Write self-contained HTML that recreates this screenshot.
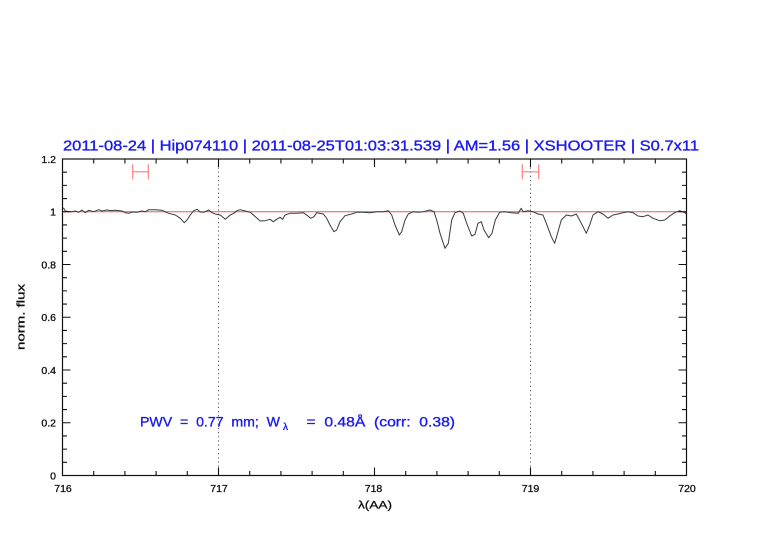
<!DOCTYPE html>
<html>
<head>
<meta charset="utf-8">
<style>
html,body{margin:0;padding:0;background:#fff;}
svg{display:block;}
text{font-family:"Liberation Sans",sans-serif;white-space:pre;}
</style>
</head>
<body>
<svg width="782" height="542" viewBox="0 0 782 542" xmlns="http://www.w3.org/2000/svg">
<rect width="782" height="542" fill="#fff"/>

<!-- title -->
<text x="63" y="150.5" font-size="14.5" fill="#1a1aee" stroke="#1a1aee" stroke-width="0.35" textLength="636" lengthAdjust="spacingAndGlyphs">2011-08-24 | Hip074110 | 2011-08-25T01:03:31.539 | AM=1.56 | XSHOOTER | S0.7x11</text>

<!-- reference line at 1 -->
<line x1="62.5" y1="211.75" x2="686.5" y2="211.75" stroke="#e85a5a" stroke-width="1"/>

<!-- dotted verticals -->
<line x1="218.5" y1="159" x2="218.5" y2="475.5" stroke="#555" stroke-width="1" stroke-dasharray="1.2,3"/>
<line x1="530.5" y1="159" x2="530.5" y2="475.5" stroke="#555" stroke-width="1" stroke-dasharray="1.2,3"/>

<!-- error bars -->
<g stroke="#ff7f7f" stroke-width="1.2" fill="none">
<path d="M132.7,164.3V179.3M148.3,164.3V179.3M132.7,171.8H148.3"/>
<path d="M522.3,164.3V179.3M538.7,164.3V179.3M522.3,171.8H538.7"/>
</g>

<!-- spectrum -->
<polyline fill="none" stroke="#3a3a3a" stroke-width="1" stroke-linejoin="round" points="
62.5,207.8 63.7,208.3 65.3,211 68,211.5 72,211.7 75.3,211 78.7,212.3 82,210 85.3,212.7 88.7,210.3 93.7,211.7 98.7,209.7 102,211 107,210 111,210.6 115.3,210.3 122,211 125.3,212.7 128.7,213.3 132,212 137,212.3 142,211 145.3,211.7 148.7,209.7 155.3,209.7 162,210.3 168.7,213.3 175.3,215 180.3,218.3 184.3,222.7 187,220 190.3,215 193.7,210.7 197,209.3 200.3,212 203.7,212.3 208.7,210 212,212.7 216,214.3 220.3,215 225.3,219.3 230.3,215 233.7,213.3 237,210.7 240.3,209.7 245.3,211 250.3,212.3 255.3,216.7 260.3,221 265.3,220.7 270,219.3 273.3,221.7 276.7,219.3 280,217.3 282.7,219.3 285,215 290,213.3 296.7,213.3 303.3,212.7 306.7,215 310.7,218.3 314,216.7 316.7,212.7 323.3,214 326.7,218.3 330,225 334,231.7 336.7,230 340,221.7 345,215.7 351.7,214 356.7,212.3 363.3,212.3 370,212.7 376.7,211.7 383.3,211.7 388.3,210.7 391.7,215 395,225 399.3,235 401.7,231.7 405,220 408.3,214 413.3,211.7 418.3,212.3 423.3,211.7 430,210 434,211.7 436.7,220 440,233.3 445,248.3 448.3,243.3 451.7,220 455,212.7 460,211 463.3,213.3 466.7,223.3 471.7,236 475,234.3 478,223.3 481.3,221.7 484,230 488.7,237.7 492,233.3 495.3,220 499.7,212.3 504.7,211.7 511.3,212.7 518,213.3 521.3,208.3 523,211.7 528,210.7 533,211.7 538,214 543,215 546.3,223.3 551.3,236.7 554.7,243.3 558,231.7 561.3,220 566.3,215 571.3,216 576.3,214 581.3,223.3 586.3,233.3 589.7,225 593,215 598,211.7 603,214 608,218.3 613,215 618,214 623,212.7 628,211.7 633,212.7 638,216 643,216.7 648,215 653,218.3 659.7,220.7 664.7,220 669.7,216 674.7,212.7 679.7,210.7 684.7,212.7 686.5,214"/>

<!-- frame -->
<rect x="62.5" y="159" width="624" height="316.5" fill="none" stroke="#111" stroke-width="1.2"/>

<!-- ticks -->
<g stroke="#111" stroke-width="1.1" fill="none">
<path d="M93.7,475.5v-4.5M124.9,475.5v-4.5M156.1,475.5v-4.5M187.3,475.5v-4.5M218.5,475.5v-8M249.7,475.5v-4.5M280.9,475.5v-4.5M312.1,475.5v-4.5M343.3,475.5v-4.5M374.5,475.5v-8M405.7,475.5v-4.5M436.9,475.5v-4.5M468.1,475.5v-4.5M499.3,475.5v-4.5M530.5,475.5v-8M561.7,475.5v-4.5M592.9,475.5v-4.5M624.1,475.5v-4.5M655.3,475.5v-4.5"/>
<path d="M93.7,159v4.5M124.9,159v4.5M156.1,159v4.5M187.3,159v4.5M218.5,159v8M249.7,159v4.5M280.9,159v4.5M312.1,159v4.5M343.3,159v4.5M374.5,159v8M405.7,159v4.5M436.9,159v4.5M468.1,159v4.5M499.3,159v4.5M530.5,159v8M561.7,159v4.5M592.9,159v4.5M624.1,159v4.5M655.3,159v4.5"/>
<path d="M62.5,462.31h4.5M62.5,449.13h4.5M62.5,435.94h4.5M62.5,422.75h8M62.5,409.56h4.5M62.5,396.38h4.5M62.5,383.19h4.5M62.5,370h8M62.5,356.81h4.5M62.5,343.63h4.5M62.5,330.44h4.5M62.5,317.25h8M62.5,304.06h4.5M62.5,290.88h4.5M62.5,277.69h4.5M62.5,264.5h8M62.5,251.31h4.5M62.5,238.13h4.5M62.5,224.94h4.5M62.5,211.75h8M62.5,198.56h4.5M62.5,185.38h4.5M62.5,172.19h4.5"/>
<path d="M686.5,462.31h-4.5M686.5,449.13h-4.5M686.5,435.94h-4.5M686.5,422.75h-8M686.5,409.56h-4.5M686.5,396.38h-4.5M686.5,383.19h-4.5M686.5,370h-8M686.5,356.81h-4.5M686.5,343.63h-4.5M686.5,330.44h-4.5M686.5,317.25h-8M686.5,304.06h-4.5M686.5,290.88h-4.5M686.5,277.69h-4.5M686.5,264.5h-8M686.5,251.31h-4.5M686.5,238.13h-4.5M686.5,224.94h-4.5M686.5,211.75h-8M686.5,198.56h-4.5M686.5,185.38h-4.5M686.5,172.19h-4.5"/>
</g>

<!-- y tick labels -->
<g font-size="10.5" fill="#111" stroke="#111" stroke-width="0.3" text-anchor="end">
<text x="56" y="479.3">0</text>
<text x="56" y="426.5">0.2</text>
<text x="56" y="373.8">0.4</text>
<text x="56" y="321">0.6</text>
<text x="56" y="268.3">0.8</text>
<text x="56" y="215.5">1</text>
<text x="56" y="162.8">1.2</text>
</g>

<!-- x tick labels -->
<g font-size="10.5" fill="#111" stroke="#111" stroke-width="0.3" text-anchor="middle">
<text x="63" y="492">716</text>
<text x="219" y="492">717</text>
<text x="373.5" y="492">718</text>
<text x="530.5" y="492">719</text>
<text x="687" y="492">720</text>
</g>

<!-- axis labels -->
<text x="375" y="508.5" font-size="11" fill="#111" stroke="#111" stroke-width="0.3" text-anchor="middle" textLength="34" lengthAdjust="spacingAndGlyphs">λ(AA)</text>
<text transform="translate(24.5,317) rotate(-90)" x="0" y="0" font-size="11" fill="#111" stroke="#111" stroke-width="0.3" text-anchor="middle" textLength="66" lengthAdjust="spacingAndGlyphs">norm. flux</text>

<!-- annotation -->
<g font-size="14" fill="#1a1aee" stroke="#1a1aee" stroke-width="0.35">
<text x="140" y="426.7" textLength="140" lengthAdjust="spacingAndGlyphs">PWV  =  0.77  mm;  W</text>
<text x="283" y="430" font-size="10">λ</text>
<text x="306.5" y="426.7" textLength="148.5" lengthAdjust="spacingAndGlyphs">=  0.48Å  (corr:  0.38)</text>
</g>
</svg>
</body>
</html>
